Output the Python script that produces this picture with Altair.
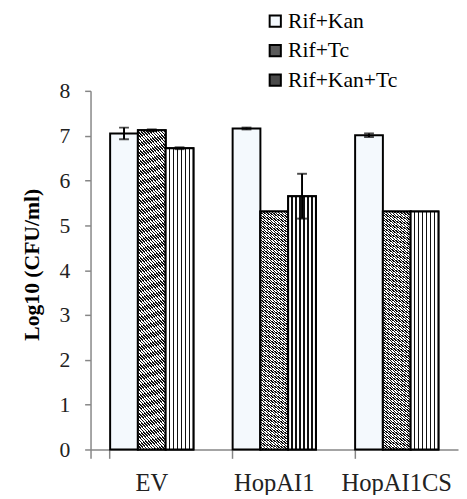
import altair as alt
import pandas as pd

groups = ["EV", "HopAI1", "HopAI1CS"]
series = ["Rif+Kan", "Rif+Tc", "Rif+Kan+Tc"]
values = {
    "Rif+Kan":    [7.05, 7.16, 7.01],
    "Rif+Tc":     [7.12, 5.31, 5.31],
    "Rif+Kan+Tc": [6.72, 5.65, 5.31],
}
errors = {
    "Rif+Kan":    [0.13, 0.02, 0.04],
    "Rif+Tc":     [0.02, 0.0, 0.0],
    "Rif+Kan+Tc": [0.02, 0.50, 0.0],
}

rows = []
for s in series:
    for g, v, e in zip(groups, values[s], errors[s]):
        rows.append({"group": g, "series": s, "value": v, "err": e,
                     "lo": v - e, "hi": v + e})
df = pd.DataFrame(rows)

FONT = "Liberation Serif"
W, H = 374, 365


def stripe_stops(n, frac, on, off):
    stops = []
    for i in range(n):
        a = i / n
        b = (i + frac) / n
        c = (i + 1) / n
        stops += [{"offset": a, "color": on}, {"offset": b, "color": on},
                  {"offset": b, "color": off}, {"offset": c, "color": off}]
    return stops


# vertical stripes (Rif+Kan+Tc)
vstops = [{"offset": 0.0, "color": "#ffffff"}]
for k in range(1, 7):
    c = k / 7
    vstops += [{"offset": c - 0.024, "color": "#ffffff"},
               {"offset": c - 0.024, "color": "#111111"},
               {"offset": c + 0.024, "color": "#111111"},
               {"offset": c + 0.024, "color": "#ffffff"}]
vstops.append({"offset": 1.0, "color": "#ffffff"})
vgrad = {"gradient": "linear", "x1": 0, "y1": 0, "x2": 1, "y2": 0,
         "stops": vstops}

# diagonal hatch (Rif+Tc), lines from top-left to bottom-right
r = 280 / 28.0
gx = (1 + r) / (1 + r * r)
gy = -r * gx
dstops = stripe_stops(105, 0.5, "#111111", "#ffffff")
dgrad = {"gradient": "linear", "x1": 0, "y1": 1, "x2": gx, "y2": 1 + gy,
         "stops": dstops}

x_enc = alt.X("group:N", sort=groups, title=None,
              scale=alt.Scale(paddingInner=0.32, paddingOuter=0.16),
              axis=alt.Axis(labelAngle=0, bandPosition=0, tickExtra=True,
                            tickSize=9, labelPadding=13, labelFontSize=25))
xo_enc = alt.XOffset("series:N", sort=series,
                     scale=alt.Scale(domain=series, paddingInner=0, paddingOuter=0))
y_enc = alt.Y("value:Q", title="Log10 (CFU/ml)",
              scale=alt.Scale(domain=[0, 8], nice=False),
              axis=alt.Axis(values=list(range(0, 9)), tickSize=6, labelPadding=15,
                            labelFontSize=22, titleFontSize=22, titleFontWeight="bold",
                            titleX=-60, titleY=H / 2 - 6, titleAngle=270,
                            titleAlign="center", titleBaseline="middle"))

base = alt.Chart(df)

legend_bars = base.mark_bar(stroke="#000000", strokeWidth=2).encode(
    x=x_enc, xOffset=xo_enc, y=y_enc,
    color=alt.Color("series:N", sort=series,
                    scale=alt.Scale(domain=series,
                                    range=["#f4f9fd", "#5a5a5a", "#4a4a4a"]),
                    legend=alt.Legend(title=None, orient="none", legendX=177,
                                      legendY=-82, symbolType="square",
                                      symbolSize=130, symbolStrokeColor="#000000",
                                      symbolStrokeWidth=2, labelFont=FONT,
                                      labelFontSize=22, labelColor="#000000",
                                      labelOffset=2, rowPadding=8)),
)

tc_bars = base.transform_filter(alt.datum.series == "Rif+Tc").mark_bar(
    fill=dgrad, stroke="#000000", strokeWidth=2).encode(
    x=x_enc, xOffset=xo_enc, y=y_enc)

kt_bars = base.transform_filter(alt.datum.series == "Rif+Kan+Tc").mark_bar(
    fill=vgrad, stroke="#000000", strokeWidth=2).encode(
    x=x_enc, xOffset=xo_enc, y=y_enc)

eb = base.transform_filter(alt.datum.err > 0)
err_rule = eb.mark_rule(color="#000000", strokeWidth=2).encode(
    x=x_enc, xOffset=xo_enc, y="lo:Q", y2="hi:Q")
err_caps = eb.transform_fold(["lo", "hi"], as_=["k", "pos"]).mark_tick(
    color="#000000", thickness=2, size=10).encode(
    x=x_enc, xOffset=xo_enc, y=alt.Y("pos:Q"))

chart = alt.layer(legend_bars, tc_bars, kt_bars, err_rule, err_caps).properties(
    width=W, height=H,
    background="#ffffff",
    autosize=alt.AutoSizeParams(type="none"),
    padding={"left": 84, "top": 80, "right": 1, "bottom": 42},
).configure_view(stroke=None).configure_axis(
    domainColor="#868686", domainWidth=1.5, tickColor="#868686", tickWidth=1.5,
    labelFont=FONT, titleFont=FONT, labelColor="#222222", titleColor="#000000",
    grid=False,
)

chart.save("out.html", embed_options={"renderer": "svg", "actions": False})
